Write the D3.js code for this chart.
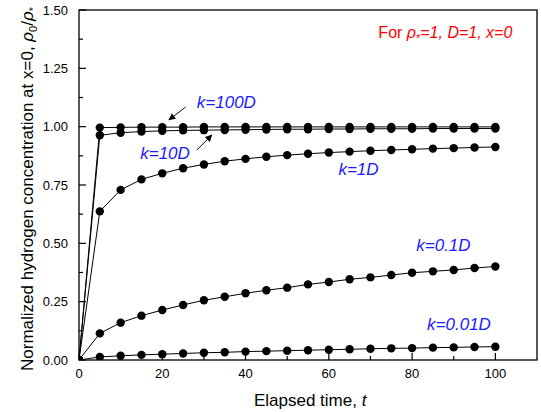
<!DOCTYPE html>
<html>
<head>
<meta charset="utf-8">
<script src="https://cdn.jsdelivr.net/npm/d3@7"></script>
<style>
  body { margin: 0; background: #fff; }
  svg { font-family: "Liberation Sans", Arial, sans-serif; }
  .tick-label { font-size: 13px; fill: #000; }
  .axis-title { font-size: 17px; fill: #000; }
  .k-label { font-size: 17px; font-style: italic; fill: #1a1aff; }
</style>
</head>
<body>
<svg id="chart" width="541" height="412"></svg>
<script>
// elapsed time t
var times = [0, 5, 10, 15, 20, 25, 30, 35, 40, 45, 50, 55, 60, 65, 70, 75, 80, 85, 90, 95, 100];

// normalized surface concentration for each k
var k100  = [0, 0.996, 0.997, 0.998, 0.998, 0.998, 0.999, 0.999, 0.999, 0.999, 0.999, 0.999, 0.999, 0.999, 0.999, 0.999, 0.999, 0.999, 0.999, 0.999, 0.999];
var k10   = [0, 0.963, 0.974, 0.979, 0.982, 0.984, 0.985, 0.986, 0.987, 0.988, 0.989, 0.989, 0.990, 0.990, 0.991, 0.991, 0.991, 0.992, 0.992, 0.992, 0.992];
var k1    = [0, 0.637, 0.729, 0.774, 0.800, 0.822, 0.838, 0.852, 0.862, 0.871, 0.878, 0.884, 0.889, 0.893, 0.897, 0.900, 0.903, 0.906, 0.908, 0.911, 0.913];
var k01   = [0, 0.114, 0.160, 0.190, 0.214, 0.236, 0.256, 0.271, 0.286, 0.299, 0.310, 0.324, 0.334, 0.346, 0.354, 0.364, 0.374, 0.380, 0.386, 0.394, 0.401];
var k001  = [0, 0.013, 0.018, 0.022, 0.025, 0.028, 0.031, 0.033, 0.036, 0.038, 0.040, 0.042, 0.044, 0.046, 0.048, 0.050, 0.051, 0.053, 0.054, 0.056, 0.057];

var seriesNames = ["k=100D", "k=10D", "k=1D", "k=0.1D", "k=0.01D"];
var seriesValues = [k100, k10, k1, k01, k001];

var xTicks = [0, 20, 40, 60, 80, 100];
var xMinor = [10, 30, 50, 70, 90];
var yTicks = [0, 0.25, 0.5, 0.75, 1.0, 1.25, 1.5];
var yMinor = [0.125, 0.375, 0.625, 0.875, 1.125, 1.375];

// label anchors in data units [t, value]
var labelPos = [[28.3, 1.081], [14.7, 0.862], [62.3, 0.791], [81.0, 0.467], [83.6, 0.129]];
// arrows [t0, v0, t1, v1]
var arrows = [[25.6, 1.084, 21.6, 1.029], [28.3, 0.900, 31.9, 0.964]];

var margins = { top: 10, right: 4, bottom: 52, left: 79 };
var width = 541, height = 412;

var svg = d3.select("#chart");

var x = d3.scaleLinear().domain([0, 110]).range([margins.left, width - margins.right]);
var y = d3.scaleLinear().domain([0, 1.5]).range([height - margins.bottom, margins.top]);

svg.append("defs").append("clipPath").attr("id", "plot-clip")
  .append("rect")
  .attr("x", x(0)).attr("y", y(1.5))
  .attr("width", x(110) - x(0)).attr("height", y(0) - y(1.5));

svg.append("defs").append("marker")
  .attr("id", "arrowhead")
  .attr("viewBox", "0 0 10 10")
  .attr("refX", 9).attr("refY", 5)
  .attr("markerWidth", 8).attr("markerHeight", 7)
  .attr("markerUnits", "userSpaceOnUse")
  .attr("orient", "auto")
  .append("path").attr("d", "M0,0 L10,5 L0,10 z").attr("fill", "#000");

var plot = svg.append("g").attr("clip-path", "url(#plot-clip)");

var line = d3.line()
  .x(function(d, i) { return x(times[i]); })
  .y(function(d) { return y(d); });

plot.selectAll(".series-line")
  .data(seriesValues).join("path")
  .attr("class", "series-line")
  .attr("d", line)
  .style("fill", "none")
  .style("stroke", "#000")
  .style("stroke-width", 1);

seriesValues.forEach(function(vals, s) {
  plot.selectAll(".pt-" + s)
    .data(vals).join("circle")
    .attr("class", "pt-" + s)
    .attr("cx", function(d, i) { return x(times[i]); })
    .attr("cy", function(d) { return y(d); })
    .attr("r", 4.2)
    .style("fill", "#000");
});

// frame
svg.append("rect")
  .attr("x", x(0)).attr("y", y(1.5))
  .attr("width", x(110) - x(0)).attr("height", y(0) - y(1.5))
  .style("fill", "none").style("stroke", "#000").style("stroke-width", 1.3);

// ticks (inside)
svg.selectAll(".xtick")
  .data(xTicks.map(function(t) { return [t, 7]; }).concat(xMinor.map(function(t) { return [t, 4]; })))
  .join("line")
  .attr("x1", function(d) { return x(d[0]); }).attr("x2", function(d) { return x(d[0]); })
  .attr("y1", y(0)).attr("y2", function(d) { return y(0) - d[1]; })
  .style("stroke", "#000").style("stroke-width", 1.2);

svg.selectAll(".ytick")
  .data(yTicks.map(function(t) { return [t, 7]; }).concat(yMinor.map(function(t) { return [t, 4]; })))
  .join("line")
  .attr("y1", function(d) { return y(d[0]); }).attr("y2", function(d) { return y(d[0]); })
  .attr("x1", x(0)).attr("x2", function(d) { return x(0) + d[1]; })
  .style("stroke", "#000").style("stroke-width", 1.2);

svg.selectAll(".xtick-label")
  .data(xTicks).join("text")
  .attr("class", "tick-label")
  .attr("x", function(d) { return x(d); })
  .attr("y", y(0) + 18)
  .attr("text-anchor", "middle")
  .text(function(d) { return d; });

svg.selectAll(".ytick-label")
  .data(yTicks).join("text")
  .attr("class", "tick-label")
  .attr("x", x(0) - 11)
  .attr("y", function(d) { return y(d) + 4.5; })
  .attr("text-anchor", "end")
  .text(function(d) { return d3.format(".2f")(d); });

// axis titles
var xt = svg.append("text")
  .attr("class", "axis-title")
  .attr("x", (x(0) + x(100)) / 2 + 23)
  .attr("y", 406)
  .attr("text-anchor", "middle");
xt.append("tspan").text("Elapsed time, ");
xt.append("tspan").style("font-style", "italic").text("t");

var yt = svg.append("text")
  .attr("class", "axis-title")
  .attr("transform", "translate(33," + (y(0.75) + 4) + ") rotate(-90)")
  .attr("text-anchor", "middle");
yt.append("tspan").text("Normalized hydrogen concentration at x=0, ");
yt.append("tspan").style("font-style", "italic").text("ρ");
yt.append("tspan").attr("dy", 4).style("font-size", "11px").text("0");
yt.append("tspan").attr("dy", -4).text("/");
yt.append("tspan").style("font-style", "italic").text("ρ");
yt.append("tspan").attr("dy", 4).style("font-size", "11px").text("*");

// k labels
svg.selectAll(".k-label")
  .data(seriesNames).join("text")
  .attr("class", "k-label")
  .attr("x", function(d, i) { return x(labelPos[i][0]); })
  .attr("y", function(d, i) { return y(labelPos[i][1]); })
  .text(function(d) { return d; });

svg.selectAll(".arrow")
  .data(arrows).join("line")
  .attr("class", "arrow")
  .attr("x1", function(d) { return x(d[0]); }).attr("y1", function(d) { return y(d[1]); })
  .attr("x2", function(d) { return x(d[2]); }).attr("y2", function(d) { return y(d[3]); })
  .attr("marker-end", "url(#arrowhead)")
  .style("stroke", "#000").style("stroke-width", 1);

// condition note
var note = svg.append("text")
  .attr("x", x(71.9)).attr("y", y(1.382))
  .style("font-size", "16px").style("fill", "#ff0000");
note.append("tspan").text("For ");
note.append("tspan").style("font-style", "italic").text("ρ");
note.append("tspan").attr("dy", 4).style("font-size", "11px").text("*");
note.append("tspan").attr("dy", -4).style("font-style", "italic").text("=1, D=1, x=0");
</script>
</body>
</html>
